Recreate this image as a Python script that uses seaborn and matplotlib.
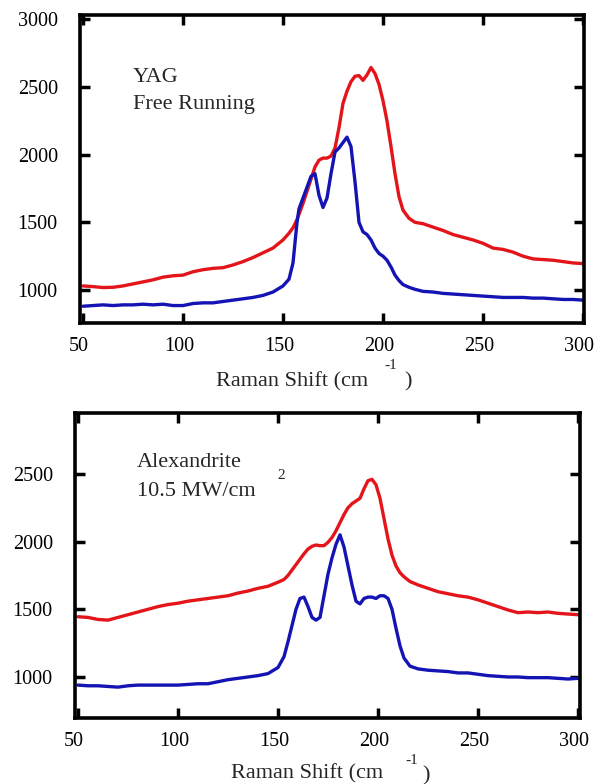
import numpy as np
import pandas as pd
import matplotlib
matplotlib.use("Agg")
import matplotlib.pyplot as plt
import matplotlib.transforms as mtransforms
import seaborn as sns

# ---- YAG, free running (top panel) ----
yag_shift = [50, 55, 60, 65, 70, 75, 80, 85, 90, 95, 100, 105, 110, 115, 120, 125,
             130, 135, 140, 145, 150, 153, 155, 156, 157, 158, 160, 162, 164, 166,
             168, 170, 172, 174, 176, 178, 180, 182, 184, 186, 188, 190, 192, 194,
             196, 198, 200, 202, 204, 206, 208, 210, 213, 216, 220, 225, 230, 235,
             240, 245, 250, 255, 260, 265, 270, 275, 280, 285, 290, 295, 300]
yag_red = [1030, 1025, 1018, 1020, 1030, 1045, 1060, 1075, 1095, 1105, 1110, 1135,
           1150, 1160, 1165, 1185, 1210, 1240, 1275, 1310, 1370, 1420, 1460, 1490,
           1520, 1560, 1640, 1730, 1820, 1910, 1960, 1975, 1975, 1990, 2050, 2200,
           2380, 2470, 2540, 2580, 2585, 2550, 2590, 2645, 2600, 2520, 2400, 2250,
           2060, 1860, 1690, 1590, 1530, 1500, 1490, 1465, 1440, 1410, 1390, 1370,
           1345, 1310, 1300, 1280, 1250, 1230, 1225, 1220, 1210, 1200, 1195]
yag_blue = [880, 885, 890, 885, 890, 890, 895, 890, 895, 885, 885, 900, 905, 905,
            915, 925, 935, 945, 960, 985, 1030, 1080, 1200, 1350, 1500, 1600, 1680,
            1760, 1840, 1860, 1700, 1610, 1680, 1860, 2020, 2050, 2090, 2130, 2060,
            1800, 1500, 1430, 1410, 1370, 1310, 1270, 1250, 1220, 1170, 1110, 1070,
            1040, 1020, 1005, 990, 985, 975, 970, 965, 960, 955, 950, 945, 945, 945,
            940, 940, 935, 930, 930, 925]

# ---- Alexandrite, 10.5 MW/cm2 (bottom panel) ----
alex_shift = [50, 55, 60, 65, 70, 75, 80, 85, 90, 95, 100, 105, 110, 115, 120, 125,
              130, 135, 140, 145, 150, 153, 155, 157, 159, 161, 163, 165, 167, 169,
              171, 173, 175, 177, 179, 181, 183, 185, 187, 189, 191, 193, 195, 197,
              199, 201, 203, 205, 207, 209, 211, 213, 216, 220, 225, 230, 235, 240,
              245, 250, 255, 260, 265, 270, 275, 280, 285, 290, 295, 300]
alex_red = [1445, 1440, 1425, 1420, 1440, 1460, 1480, 1500, 1520, 1535, 1545, 1560,
            1570, 1580, 1590, 1600, 1620, 1635, 1655, 1670, 1700, 1720, 1750, 1790,
            1830, 1870, 1910, 1945, 1965, 1975, 1970, 1970, 1995, 2030, 2080, 2140,
            2200, 2250, 2280, 2300, 2320, 2390, 2450, 2460, 2420, 2320, 2170, 2020,
            1900, 1820, 1770, 1740, 1705, 1680, 1655, 1630, 1615, 1600, 1590, 1570,
            1545, 1520, 1495, 1475, 1480, 1475, 1480, 1470, 1465, 1460]
alex_blue = [940, 935, 935, 930, 925, 935, 940, 940, 940, 940, 940, 945, 950, 950,
             965, 980, 990, 1000, 1010, 1025, 1070, 1150, 1260, 1380, 1500, 1580, 1590,
             1520, 1440, 1420, 1440, 1600, 1760, 1880, 1980, 2050, 1960, 1820, 1680,
             1560, 1540, 1580, 1590, 1590, 1580, 1600, 1600, 1580, 1500, 1360, 1230,
             1140, 1080, 1060, 1050, 1045, 1040, 1030, 1030, 1020, 1010, 1005, 1000,
             1000, 995, 995, 995, 990, 985, 990]

x_ticks = [50, 100, 150, 200, 250, 300]
y_ticks = [1000, 1500, 2000, 2500, 3000]

RED = "#e3151b"
BLUE = "#1414b4"

sns.set_style("ticks")
plt.rcParams["font.family"] = ["Liberation Serif", "DejaVu Serif"]

fig = plt.figure(figsize=(5.94, 7.84), dpi=100)
W, H = 594, 784


def box(l, t, r, b):
    return [l / W, 1 - b / H, (r - l) / W, (b - t) / H]


def style_axes(ax, xlim, ylim):
    ax.set_xlim(*xlim)
    ax.set_ylim(*ylim)
    ax.set_xticks(x_ticks)
    ax.set_yticks([v for v in y_ticks if ylim[0] <= v <= ylim[1]])
    ax.tick_params(direction="in", length=7, width=2.5, top=True, right=True,
                   labelsize=14.5, colors="black")
    ax.tick_params(axis="x", pad=10)
    ax.tick_params(axis="y", pad=16)
    for s in ax.spines.values():
        s.set_linewidth(2.6)
        s.set_color("black")
    # nudge x tick labels a little to the left, as in the original
    shift = mtransforms.ScaledTranslation(-4 / 100, 0, fig.dpi_scale_trans)
    for lab in ax.get_xticklabels():
        lab.set_transform(lab.get_transform() + shift)
    ax.set_xlabel("")
    ax.set_ylabel("")


panels = [
    (box(80, 15, 584, 323), yag_shift, yag_red, yag_blue, (48.5, 300.5), (756, 3033)),
    (box(75, 413, 580, 718), alex_shift, alex_red, alex_blue, (48.5, 301), (697, 2950)),
]

for rect, xs, red, blue, xlim, ylim in panels:
    ax = fig.add_axes(rect)
    df = pd.DataFrame({"shift": xs, "red": red, "blue": blue})
    sns.lineplot(data=df, x="shift", y="red", ax=ax, color=RED, lw=2.4)
    sns.lineplot(data=df, x="shift", y="blue", ax=ax, color=BLUE, lw=2.4)
    style_axes(ax, xlim, ylim)

fs = 16
# annotations, top panel
fig.text(133 / W, 1 - 82 / H, "YAG", fontsize=fs, va="baseline")
fig.text(133 / W, 1 - 109 / H, "Free Running", fontsize=fs, va="baseline")
# annotations, bottom panel
fig.text(137 / W, 1 - 467 / H, "Alexandrite", fontsize=fs, va="baseline")
fig.text(137 / W, 1 - 496 / H, "10.5 MW/cm", fontsize=fs, va="baseline")
fig.text(277 / W, 1 - 479 / H, "2", fontsize=11, va="baseline")

# x axis labels (as laid out in the original, with detached superscript)
fig.text(216 / W, 1 - 386 / H, "Raman Shift (cm", fontsize=fs, va="baseline")
fig.text(384 / W, 1 - 369 / H, "-1", fontsize=11, va="baseline")
fig.text(404 / W, 1 - 386 / H, ")", fontsize=fs, va="baseline")

fig.text(231 / W, 1 - 778 / H, "Raman Shift (cm", fontsize=fs, va="baseline")
fig.text(405 / W, 1 - 764 / H, "-1", fontsize=11, va="baseline")
fig.text(422 / W, 1 - 780 / H, ")", fontsize=fs, va="baseline")

fig.savefig("out.png", dpi=100)
